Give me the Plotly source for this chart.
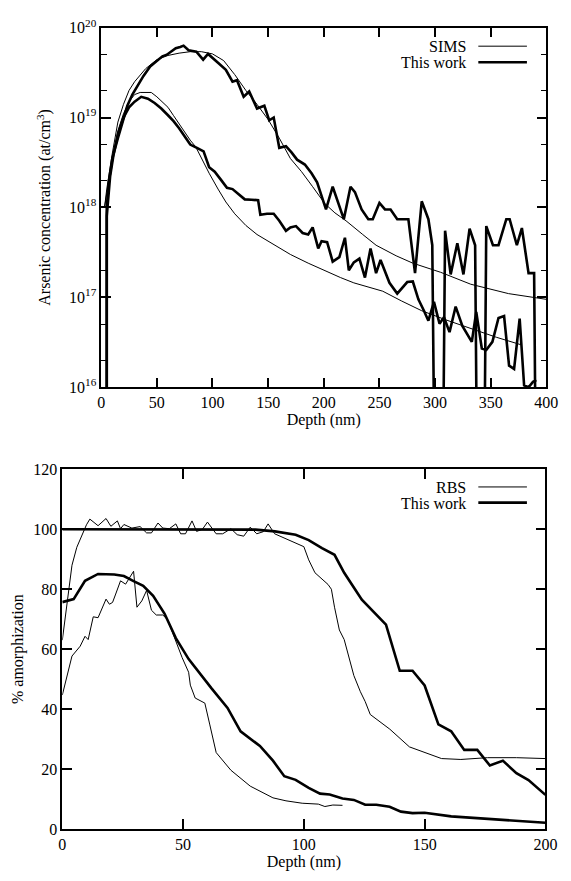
import plotly.graph_objects as go

# ---------------- Top panel: arsenic concentration ----------------
sims_hi_depth = [3, 5, 10, 15, 20, 25, 30, 40, 50, 60, 70, 80, 90, 100, 110, 120, 130, 140, 150,
                 160, 170, 180, 190, 201, 210, 220, 235, 247, 265, 280, 305, 332, 366, 400]
sims_hi_conc = [1.0e18, 1.6e18, 4.0e18, 8.9e18, 1.4e19, 2.0e19, 2.5e19, 3.5e19, 4.4e19, 4.9e19,
                5.2e19, 5.4e19, 5.4e19, 5.1e19, 4.3e19, 3.0e19, 2.0e19, 1.4e19, 9.5e18,
                5.9e18, 3.5e18, 2.5e18, 1.7e18, 1.1e18, 8.7e17, 7.1e17, 5.0e17, 3.8e17, 2.9e17,
                2.4e17, 1.9e17, 1.4e17, 1.1e17, 9.5e16]

sims_lo_depth = [3, 5, 10, 15, 20, 25, 30, 35, 40, 45, 50, 55, 60, 65, 70, 75, 80, 85, 90, 97,
                 105, 112, 120, 130, 140, 150, 157, 170, 186, 200, 215, 227, 240, 253, 270, 288,
                 310, 332, 355, 378]
sims_lo_conc = [1.0e18, 1.4e18, 3.5e18, 7.1e18, 1.1e19, 1.5e19, 1.8e19, 1.9e19, 1.9e19, 1.9e19,
                1.7e19, 1.5e19, 1.3e19, 1.05e19, 8.5e18, 6.9e18, 5.6e18, 4.7e18, 3.5e18, 2.4e18,
                1.6e18, 1.15e18, 8.5e17, 6.3e17, 5.0e17, 4.2e17, 3.8e17, 3.0e17, 2.4e17, 2.0e17,
                1.66e17, 1.45e17, 1.3e17, 1.17e17, 9.1e16, 7.1e16, 5.6e16, 4.5e16, 3.6e16, 2.95e16]

work_hi_depth = [5, 5, 7, 10, 15, 19, 23.5, 28, 32, 38, 44, 50, 55, 59, 63, 67, 71, 74, 78.5, 85.5,
                 91.6, 96, 104.7, 112, 118, 122, 128, 133, 140, 146.6, 151, 155, 160, 166, 171,
                 176, 183, 189, 194, 198, 202, 208, 218, 224, 228, 234, 240, 244, 250, 255, 260,
                 266, 276, 282, 288, 294, 297.5, 303.5, 309, 314, 320, 325.5, 331, 336, 341,
                 346, 352, 357, 364, 367, 373.5, 378, 384, 389, 394]
work_hi_conc = [1e10, 1.0e18, 2.0e18, 3.5e18, 5.9e18, 9.0e18, 1.35e19, 1.8e19, 2.2e19, 2.9e19,
                3.7e19, 4.3e19, 4.8e19, 5.0e19, 5.4e19, 5.9e19, 6.1e19, 6.3e19, 5.6e19, 5.4e19,
                4.4e19, 5.1e19, 4.1e19, 3.4e19, 2.5e19, 2.6e19, 1.7e19, 1.95e19, 1.26e19, 1.35e19,
                9.3e18, 1.0e19, 4.6e18, 4.8e18, 4.1e18, 3.4e18, 3.0e18, 2.4e18, 1.9e18, 1.35e18,
                9.5e17, 1.7e18, 7.4e17, 1.7e18, 1.48e18, 9.5e17, 7.4e17, 7.4e17, 1.12e18, 9.5e17,
                9.5e17, 7.4e17, 7.4e17, 1.86e17, 1.17e18, 7.4e17, 3.8e17, 1e10, 5.5e17, 1.8e17,
                4.0e17, 1.8e17, 5.8e17, 3.8e17, 1e10, 6.2e17, 3.8e17, 3.8e17, 7.4e17, 7.4e17,
                3.8e17, 5.9e17, 1.86e17, 1.86e17, 1e10]

work_lo_depth = [5, 5, 8, 11, 15, 20, 25, 30, 36, 42, 48, 54, 60, 65, 70, 75, 80, 86, 92, 97, 102,
                 108, 113, 118, 124, 129, 135, 141, 143, 149, 155, 160, 166, 170, 175, 181, 186,
                 190, 195, 198, 203, 208, 214, 219, 222.5, 227, 232, 237, 242, 247, 251, 259, 266,
                 275, 280, 285, 290, 294, 299, 304, 308, 313, 318.5, 324.5, 333, 337, 342, 346,
                 351.5, 357, 362, 366.5, 371, 376, 380, 384, 388, 391]
work_lo_conc = [1e10, 8.0e17, 2.2e18, 3.8e18, 6.5e18, 1.0e19, 1.3e19, 1.5e19, 1.7e19, 1.62e19,
                1.45e19, 1.26e19, 1.06e19, 9.1e18, 7.6e18, 6.2e18, 5.0e18, 4.6e18, 4.2e18, 2.8e18,
                2.5e18, 2.0e18, 1.65e18, 1.6e18, 1.4e18, 1.23e18, 1.22e18, 1.2e18, 8.3e17, 8.5e17,
                8.5e17, 7.1e17, 5.5e17, 6.0e17, 6.2e17, 5.2e17, 5.0e17, 6.0e17, 3.5e17, 4.2e17,
                4.1e17, 2.5e17, 2.8e17, 4.6e17, 2.0e17, 2.45e17, 2.7e17, 1.66e17, 3.5e17, 1.86e17,
                2.6e17, 1.45e17, 1.1e17, 1.48e17, 1.5e17, 9.5e16, 7.1e16, 5.5e16, 8.9e16, 5.1e16,
                6.0e16, 4.1e16, 7.9e16, 4.8e16, 3.2e16, 6.9e16, 2.7e16, 2.6e16, 3.2e16, 5.9e16,
                6.2e16, 1.74e16, 1.6e16, 5.8e16, 1.05e16, 1.0e16, 1.15e16, 1.2e16]

conc_tick_vals = [1e16, 1e17, 1e18, 1e19, 1e20]
conc_tick_text = ["10<sup>16</sup>", "10<sup>17</sup>", "10<sup>18</sup>", "10<sup>19</sup>", "10<sup>20</sup>"]
conc_minor_vals = [2e16, 5e16, 2e17, 5e17, 2e18, 5e18, 2e19, 5e19]
depth1_ticks = [0, 50, 100, 150, 200, 250, 300, 350, 400]

# ---------------- Bottom panel: % amorphization ----------------
rbs_hi_depth = [0, 2, 4, 6, 8, 10, 11.4, 14.8, 18.1, 20.1, 22.8, 24.1, 25.5, 28.8, 32.2, 34.9, 36.9,
                39.6, 41.6, 44.3, 47, 49, 51, 53.7, 55.6, 58, 60.1, 63.7, 66.4, 69.8, 72.4, 75.1,
                77.8, 80.5, 83.2, 85.2, 87.9, 92.6, 100, 102, 104.6, 110, 111.4, 112.7, 114.7,
                116.7, 120.7, 123.4, 125.4, 127.5, 135.6, 143.7, 149, 157, 165, 176, 188, 200]
rbs_hi_pct = [63, 75, 88, 94, 98, 101.5, 103.4, 101.2, 103.6, 101, 102.8, 100.2, 101.6, 100.4,
              100.9, 98.8, 98.8, 102.1, 100.4, 100.2, 101.8, 98.5, 98.5, 102.8, 99.3, 100, 102.4,
              98.5, 98.5, 100.2, 98.2, 97.7, 100.7, 98.5, 99.2, 101.8, 98.5, 96.9, 94.2, 89.8,
              85.5, 81.6, 80, 74, 66.4, 63.2, 51.2, 45.8, 42.5, 38.2, 33.3, 27.4, 25.8, 23.5, 23.2,
              23.8, 23.8, 23.5]

work2_hi_depth = [0, 70, 80, 88, 96.6, 102, 107.5, 112.7, 116.7, 124, 134, 139.7, 145, 150, 155.7,
                  161, 166.4, 171.8, 177, 182.4, 188, 193, 200]
work2_hi_pct = [100, 100, 99.9, 99.3, 98.2, 96.4, 93.7, 91.5, 85.5, 76.5, 68.2, 52.8, 52.8, 47.9,
                34.9, 32.6, 26.4, 26.4, 21.2, 22.8, 18.6, 16.3, 11.4]

rbs_lo_depth = [0, 2, 4, 7.4, 9.4, 10.7, 12.8, 14.8, 16.1, 18.1, 19.5, 20.8, 22.1, 24.1, 26.2, 28.2,
                29.5, 30.9, 32.9, 34.9, 36.9, 38.9, 41.6, 43.6, 47, 49.6, 52.3, 53, 55, 59, 61,
                62.4, 63.7, 69.8, 77.8, 87.2, 92.6, 99.3, 106, 108.7, 112, 116]
rbs_lo_pct = [44.7, 51.2, 57.7, 61, 64.3, 63.2, 70.8, 70.5, 73, 76.7, 75, 75.6, 78.4, 82.8, 81.7,
              84.5, 86, 74, 76.1, 79.6, 73, 71.4, 71.4, 69.8, 62.5, 57.2, 52.3, 48, 43.7, 42, 35,
              30.5, 25.5, 19.6, 14.3, 10.4, 9.4, 8.6, 8.3, 7.5, 8, 7.9]

work2_lo_depth = [0, 4.7, 9.4, 14.8, 21.5, 25.5, 29.5, 33.5, 37.6, 42.3, 47, 52.3, 61.7, 68.4, 73.8,
                  81.8, 87.2, 91.9, 96.6, 102, 106.7, 110.7, 116, 120.7, 125.4, 130, 135.5, 140.2,
                  145, 150, 161, 174.4, 185, 200]
work2_lo_pct = [75.7, 76.7, 82.8, 85.1, 84.9, 84.4, 82.7, 81.1, 77.8, 71.9, 63.7, 56.7, 47, 40.4,
                32.6, 27.7, 22.8, 17.6, 16.4, 13.7, 11.8, 11.5, 10.2, 9.7, 8.1, 8.1, 7.4, 5.8, 5.3,
                5.4, 4.2, 3.4, 2.8, 2.1]

depth2_ticks = [0, 50, 100, 150, 200]
pct_ticks = [0, 20, 40, 60, 80, 100, 120]

FONT = "Liberation Serif"
FS = 16
THIN = 1.0
THICK = 2.6

fig = go.Figure()

def add(x, y, w, name, xa, ya):
    fig.add_trace(go.Scatter(x=x, y=y, mode="lines", name=name, showlegend=False,
                             line=dict(color="black", width=w), xaxis=xa, yaxis=ya,
                             hoverinfo="skip"))

add(sims_hi_depth, sims_hi_conc, THIN, "SIMS", "x", "y")
add(sims_lo_depth, sims_lo_conc, THIN, "SIMS", "x", "y")
add(work_hi_depth, work_hi_conc, THICK, "This work", "x", "y")
add(work_lo_depth, work_lo_conc, THICK, "This work", "x", "y")

add(rbs_hi_depth, rbs_hi_pct, THIN, "RBS", "x2", "y2")
add(rbs_lo_depth, rbs_lo_pct, THIN, "RBS", "x2", "y2")
add(work2_hi_depth, work2_hi_pct, THICK, "This work", "x2", "y2")
add(work2_lo_depth, work2_lo_pct, THICK, "This work", "x2", "y2")

W, H = 571, 881
def px(v):
    return v / W
def py(v):
    return 1 - v / H

tickfont = dict(family=FONT, size=FS, color="black")
titlefont = dict(family=FONT, size=FS, color="black")
common = dict(showline=True, linecolor="black", linewidth=1.5, mirror="allticks",
              ticks="inside", ticklen=10, tickwidth=1.5, tickcolor="black",
              showgrid=False, zeroline=False, tickfont=tickfont)

fig.update_layout(
    width=W, height=H,
    margin=dict(l=0, r=0, t=0, b=0),
    paper_bgcolor="white", plot_bgcolor="white",
    font=dict(family=FONT, size=FS, color="black"),
    xaxis=dict(domain=[px(100), px(558)], anchor="y", range=[0, 400], tickmode="array",
               tickvals=depth1_ticks, ticktext=[str(v) for v in depth1_ticks],
               title=dict(text="Depth (nm)", font=titlefont, standoff=1), **common),
    yaxis=dict(domain=[py(385), py(17)], anchor="x", type="log", range=[16, 20],
               tickmode="array", tickvals=conc_tick_vals, ticktext=conc_tick_text,
               minor=dict(tickmode="array", tickvals=conc_minor_vals, ticks="inside",
                          ticklen=6, tickwidth=1.2, tickcolor="black"),
               title=dict(text="Arsenic concentration (at/cm<sup>3</sup>)", font=titlefont,
                          standoff=14), **common),
    xaxis2=dict(domain=[px(60), px(557)], anchor="y2", range=[0, 200], tickmode="array",
                tickvals=depth2_ticks, ticktext=[str(v) for v in depth2_ticks],
                title=dict(text="Depth (nm)", font=titlefont, standoff=1), **common),
    yaxis2=dict(domain=[py(837), py(469)], anchor="x2", range=[0, 120], tickmode="array",
                tickvals=pct_ticks, ticktext=[str(v) for v in pct_ticks],
                title=dict(text="% amorphization", font=titlefont, standoff=6), **common),
)

# legends (text on the left, line sample on the right, as in the original)
legend_items = [("SIMS", 36.5, THIN), ("This work", 53, THICK),
                ("RBS", 487.5, THIN), ("This work", 503.5, THICK)]
for text, yy, w in legend_items:
    fig.add_annotation(x=px(477), y=py(yy), xref="paper", yref="paper", text=text,
                       showarrow=False, xanchor="right", yanchor="middle",
                       font=dict(family=FONT, size=FS, color="black"))
    fig.add_shape(type="line", xref="paper", yref="paper", x0=px(488), x1=px(538),
                  y0=py(yy - 0.5), y1=py(yy - 0.5), line=dict(color="black", width=w))

fig.write_html("out.html")
